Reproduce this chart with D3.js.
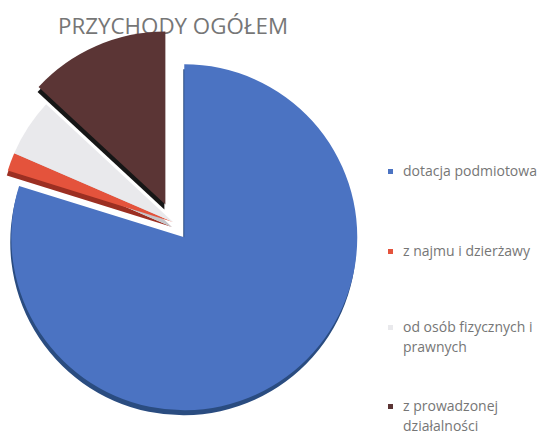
<!DOCTYPE html>
<html>
<head>
<meta charset="utf-8">
<script src="https://cdn.jsdelivr.net/npm/d3@7"></script>
<style>
  body { margin: 0; background: #fff; }
  svg { display: block; }
</style>
</head>
<body>
<svg id="chart"></svg>
<script>
// data (shares in %)
var categories = ["dotacja podmiotowa", "z najmu i dzierżawy", "od osób fizycznych i prawnych", "z prowadzonej działalności"];
var values = [79.8, 1.7, 5.4, 13.1];
var colors = ["#4b73c2", "#e4533c", "#e9e9ec", "#5b3535"];
var edgeColors = ["#2a4c80", "#9c2f22", "#c4c4c8", "#161616"];
var explode = [19, 0, 0, 19];

var width = 547, height = 435;
var cx = 173, cy = 222, radius = 173;

var svg = d3.select("#chart")
    .attr("width", width)
    .attr("height", height);

// title
svg.append("text")
    .attr("x", 173)
    .attr("y", 34)
    .attr("text-anchor", "middle")
    .attr("textLength", 230)
    .attr("lengthAdjust", "spacingAndGlyphs")
    .style("font-family", "'Open Sans', 'Liberation Sans', sans-serif")
    .style("font-size", "22px")
    .style("fill", "#767676")
    .text("PRZYCHODY OGÓŁEM");

var pie = d3.pie().sort(null).value(function(d) { return d; });
var arc = d3.arc().innerRadius(0).outerRadius(radius);
var arcs = pie(values);

function offset(d, i) {
    var mid = (d.startAngle + d.endAngle) / 2;
    return [cx + Math.sin(mid) * explode[i], cy - Math.cos(mid) * explode[i]];
}

var g = svg.append("g");

// darker copy below each slice gives the bevel/depth edge
g.selectAll("path.edge")
    .data(arcs)
    .enter()
    .append("path")
    .attr("class", "edge")
    .attr("d", arc)
    .attr("transform", function(d, i) {
        var p = offset(d, i);
        return "translate(" + (p[0] - 1) + "," + (p[1] + 5) + ")";
    })
    .style("fill", function(d, i) { return edgeColors[i]; });

g.selectAll("path.slice")
    .data(arcs)
    .enter()
    .append("path")
    .attr("class", "slice")
    .attr("d", arc)
    .attr("transform", function(d, i) {
        var p = offset(d, i);
        return "translate(" + p[0] + "," + p[1] + ")";
    })
    .style("fill", function(d, i) { return colors[i]; });

// legend
var legendY = [172, 252, 328, 407];
var legend = svg.append("g")
    .style("font-family", "'Open Sans', 'Liberation Sans', sans-serif")
    .style("font-size", "14px")
    .style("fill", "#767676");

var items = legend.selectAll("g")
    .data(categories)
    .enter()
    .append("g")
    .attr("transform", function(d, i) { return "translate(388," + legendY[i] + ")"; });

items.append("rect")
    .attr("x", 0)
    .attr("y", -3)
    .attr("width", 5)
    .attr("height", 5)
    .style("fill", function(d, i) { return colors[i]; });

items.append("text")
    .attr("x", 15)
    .attr("y", 4)
    .each(function(d) {
        var text = d3.select(this),
            words = d.split(" "),
            line = [],
            tspan = text.append("tspan").attr("x", 15).attr("dy", 0);
        words.forEach(function(w) {
            line.push(w);
            tspan.text(line.join(" "));
            if (tspan.node().getComputedTextLength() > 145 && line.length > 1) {
                line.pop();
                tspan.text(line.join(" "));
                line = [w];
                tspan = text.append("tspan").attr("x", 15).attr("dy", 20).text(w);
            }
        });
    });
</script>
</body>
</html>
